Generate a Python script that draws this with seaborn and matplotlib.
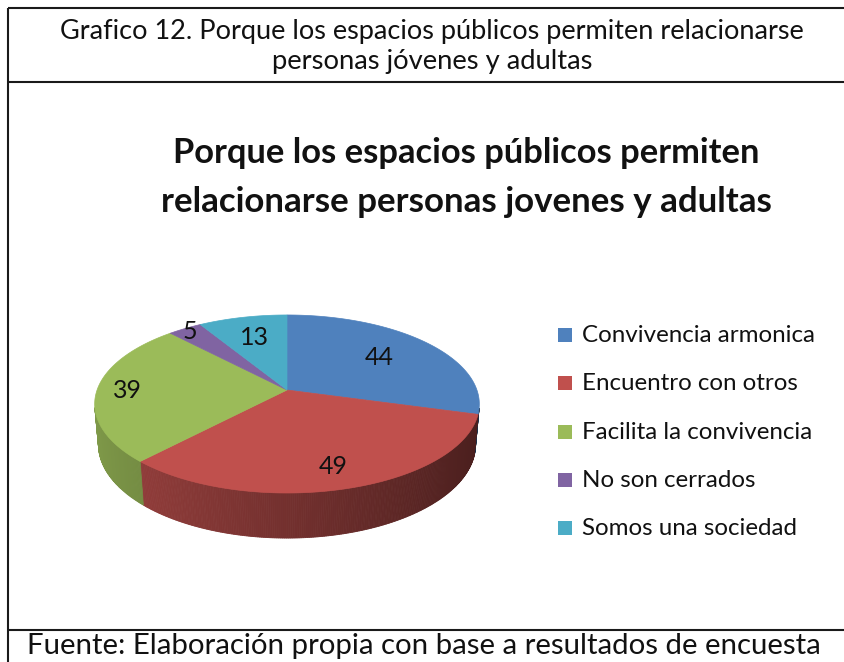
import numpy as np
import matplotlib
matplotlib.use("Agg")
import matplotlib.pyplot as plt
import seaborn as sns
from matplotlib.patches import Polygon, Rectangle

# ---------------- data ----------------
categories = ["Convivencia armonica", "Encuentro con otros", "Facilita la convivencia",
              "No son cerrados", "Somos una sociedad"]
values = [44, 49, 39, 5, 13]
colors = ["#4F81BD", "#C0504D", "#9BBB59", "#8064A2", "#4BACC6"]
header_lines = ["Grafico 12. Porque los espacios públicos permiten relacionarse",
                "personas jóvenes y adultas"]
title_lines = ["Porque los espacios públicos permiten",
               "relacionarse personas jovenes y adultas"]
footer_text = "Fuente: Elaboración propia con base a resultados de encuesta"

# ---------------- style ----------------
sns.set_theme(style="white")
plt.rcParams["font.family"] = ["Lato", "DejaVu Sans"]

W, H = 844, 662
fig = plt.figure(figsize=(W / 100, H / 100), dpi=100)
ax = fig.add_axes([0, 0, 1, 1])
ax.set_xlim(0, W)
ax.set_ylim(H, 0)
ax.axis("off")
renderer = fig.canvas.get_renderer()


def fit_width(t, width):
    bb = t.get_window_extent(renderer)
    t.set_fontsize(t.get_fontsize() * width / bb.width)
    return t


# ---------------- frame ----------------
frame_kw = dict(color="#1a1a1a", lw=1.5, solid_capstyle="butt")
ax.plot([8, W], [8, 8], **frame_kw)
ax.plot([8, W], [82, 82], **frame_kw)
ax.plot([8, W], [630, 630], **frame_kw)
ax.plot([8, 8], [8, H], **frame_kw)

# header
fit_width(ax.text(432, 39, header_lines[0], ha="center", va="baseline", fontsize=17,
                  color="#111111"), 745)
fit_width(ax.text(432, 69, header_lines[1], ha="center", va="baseline", fontsize=17,
                  color="#111111"), 321)
# footer
fit_width(ax.text(27, 654, footer_text, ha="left", va="baseline", fontsize=17,
                  color="#111111"), 791)

# chart title
fit_width(ax.text(466, 163, title_lines[0], ha="center", va="baseline", fontsize=24,
                  fontweight="bold", color="#111111"), 588)
fit_width(ax.text(466, 212, title_lines[1], ha="center", va="baseline", fontsize=24,
                  fontweight="bold", color="#111111"), 612)

# ---------------- 3D pie geometry ----------------
APEX_X, APEX_Y = 287, 390
PHI = np.radians(27.2)
DIST = 5.66
FOCAL = 1075.0
THICK = 0.242
sphi, cphi = np.sin(PHI), np.cos(PHI)


def project(X, Y, Z):
    depth = -Y * sphi + DIST + Z * cphi
    up = Y * cphi + Z * sphi
    return APEX_X + FOCAL * X / depth, APEX_Y - FOCAL * up / depth


vals = np.asarray(values, dtype=float)
edges = np.concatenate([[0.0], np.cumsum(vals)]) / vals.sum() * 360.0


def shade(c, f):
    rgb = np.array(matplotlib.colors.to_rgb(c))
    return tuple(np.clip(rgb * f, 0, 1))


# walls (front-facing only)
face_limit = -1.0 / (DIST * cphi)
for i in range(len(vals)):
    a0, a1 = edges[i], edges[i + 1]
    n = max(int((a1 - a0) * 2), 2)
    aa = np.radians(np.linspace(a0, a1, n + 1))
    for j in range(n):
        am = 0.5 * (aa[j] + aa[j + 1])
        if np.cos(am) >= face_limit:
            continue
        seg = np.array([aa[j], aa[j + 1]])
        tx, ty = project(np.sin(seg), 0.0, np.cos(seg))
        bx, by = project(np.sin(seg), -THICK, np.cos(seg))
        pts = np.column_stack([np.r_[tx, bx[::-1]], np.r_[ty, by[::-1]]])
        col = shade(colors[i], 0.6 - 0.22 * np.sin(am))
        ax.add_patch(Polygon(pts, closed=True, facecolor=col, edgecolor=col, lw=0.6,
                             zorder=2))

# top faces
for i in range(len(vals)):
    aa = np.radians(np.linspace(edges[i], edges[i + 1], 200))
    tx, ty = project(np.sin(aa), 0.0, np.cos(aa))
    pts = np.column_stack([np.r_[APEX_X, tx], np.r_[APEX_Y, ty]])
    ax.add_patch(Polygon(pts, closed=True, facecolor=colors[i], edgecolor=colors[i],
                         lw=0.5, zorder=3))

# data labels
label_r = [0.65, 0.8, 0.84, 0.95, 0.7]
for i, v in enumerate(values):
    am = np.radians(0.5 * (edges[i] + edges[i + 1]))
    lx, ly = project(label_r[i] * np.sin(am), 0.0, label_r[i] * np.cos(am))
    ax.text(lx, ly, f"{v}", ha="center", va="center", fontsize=18, color="#111111",
            zorder=5)

# ---------------- legend ----------------
leg_x, leg_y0, leg_dy = 558, 342, 48.3
sq = 14
probe = fit_width(ax.text(582, leg_y0, categories[0], ha="left", va="baseline",
                          fontsize=16, color="#111111"), 234)
leg_fs = probe.get_fontsize()
probe.remove()
for i, (cat, col) in enumerate(zip(categories, colors)):
    yb = leg_y0 + i * leg_dy
    ax.add_patch(Rectangle((leg_x, yb - sq), sq, sq, facecolor=col, edgecolor="none"))
    ax.text(582, yb, cat, ha="left", va="baseline", fontsize=leg_fs, color="#111111")

fig.savefig("out.png", dpi=100, facecolor="white")
